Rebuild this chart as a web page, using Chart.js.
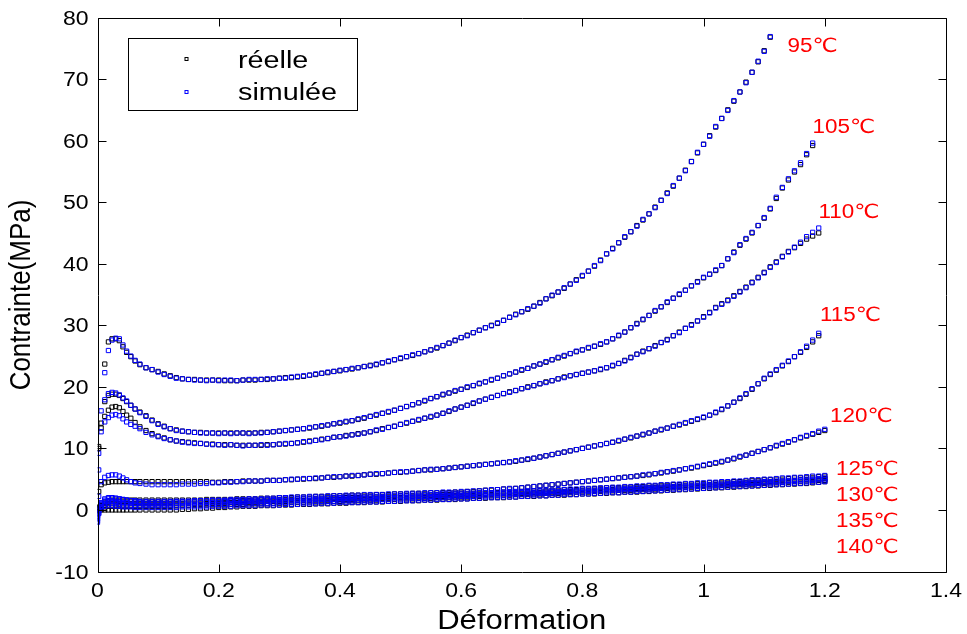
<!DOCTYPE html>
<html>
<head>
<meta charset="utf-8">
<script src="https://cdn.jsdelivr.net/npm/chart.js@4.4.1/dist/chart.umd.min.js"></script>
<style>
  html, body { margin: 0; padding: 0; background: #ffffff; }
  #wrap { width: 967px; height: 634px; }
</style>
</head>
<body>
<div id="wrap"><canvas id="c" width="967" height="634" style="width:967px;height:634px"></canvas></div>
<script>
// ---------- DATA ----------
const strain = [0, 0.002, 0.006, 0.012, 0.018, 0.024, 0.03, 0.036, 0.042, 0.048, 0.055, 0.062, 0.07, 0.08, 0.09,
  0.10, 0.11, 0.12, 0.13, 0.14, 0.15, 0.16, 0.17, 0.18, 0.19,
  0.20, 0.21, 0.22, 0.23, 0.24, 0.25, 0.26, 0.27, 0.28, 0.29,
  0.30, 0.31, 0.32, 0.33, 0.34, 0.35, 0.36, 0.37, 0.38, 0.39,
  0.40, 0.41, 0.42, 0.43, 0.44, 0.45, 0.46, 0.47, 0.48, 0.49,
  0.50, 0.51, 0.52, 0.53, 0.54, 0.55, 0.56, 0.57, 0.58, 0.59,
  0.60, 0.61, 0.62, 0.63, 0.64, 0.65, 0.66, 0.67, 0.68, 0.69,
  0.70, 0.71, 0.72, 0.73, 0.74, 0.75, 0.76, 0.77, 0.78, 0.79,
  0.80, 0.81, 0.82, 0.83, 0.84, 0.85, 0.86, 0.87, 0.88, 0.89,
  0.90, 0.91, 0.92, 0.93, 0.94, 0.95, 0.96, 0.97, 0.98, 0.99,
  1.00, 1.01, 1.02, 1.03, 1.04, 1.05, 1.06, 1.07, 1.08, 1.09,
  1.10, 1.11, 1.12, 1.13, 1.14, 1.15, 1.16, 1.17, 1.18, 1.19,
  1.20];

const temperatures = ['95℃', '105℃', '110℃', '115℃', '120℃', '125℃', '130℃', '135℃', '140℃'];

// réelle (measured) stress, MPa
const reel95 = [0.3, 10.3, null, 23.7, 27.3, 27.8, 27.8, 27.5, 26.5, 25.6, 24.9, 24.2, 23.6, 23.1, 22.8,
  22.5, 22.1, 21.8, 21.5, 21.3, 21.2, 21.2, 21.1, 21.1, 21.1,
  21.1, 21.0, 21.0, 21.0, 21.1, 21.1, 21.1, 21.2, 21.2, 21.3,
  21.4, 21.5, 21.5, 21.6, 21.7, 21.9, 22.0, 22.2, 22.3, 22.5,
  22.6, 22.8, 22.9, 23.1, 23.3, 23.5, 23.6, 23.9, 24.1, 24.4,
  24.6, 24.9, 25.1, 25.4, 25.7, 26.0, 26.3, 26.7, 27.1, 27.5,
  28.0, 28.4, 28.8, 29.2, 29.6, 30.0, 30.3, 30.8, 31.3, 31.8,
  32.2, 32.6, 33.1, 33.7, 34.3, 34.8, 35.4, 36.0, 36.7, 37.4,
  38.0, 38.8, 39.6, 40.6, 41.6, 42.5, 43.4, 44.3, 45.2, 46.2,
  47.1, 48.1, 49.2, 50.3, 51.5, 52.6, 53.9, 55.2, 56.6, 58.0,
  59.4, 60.8, 62.2, 63.6, 65.0, 66.4, 67.9, 69.5, 71.1, 72.8,
  74.6, 76.8];
const reel105 = [0.2, 10.0, 14.1, 17.6, 18.6, 18.8, 18.8, 18.6, 18.1, 17.6, 17.0, 16.4, 15.9, 15.3, 14.6,
  14.0, 13.6, 13.2, 13.0, 12.8, 12.7, 12.6, 12.6, 12.5, 12.5,
  12.5, 12.5, 12.5, 12.5, 12.5, 12.5, 12.5, 12.6, 12.6, 12.7,
  12.8, 12.9, 13.0, 13.1, 13.2, 13.3, 13.5, 13.6, 13.8, 14.0,
  14.1, 14.3, 14.5, 14.7, 14.9, 15.2, 15.4, 15.7, 15.9, 16.2,
  16.5, 16.8, 17.1, 17.4, 17.7, 18.1, 18.4, 18.7, 19.0, 19.3,
  19.6, 19.9, 20.2, 20.5, 20.8, 21.1, 21.4, 21.8, 22.1, 22.4,
  22.7, 23.0, 23.4, 23.7, 24.0, 24.4, 24.7, 25.0, 25.4, 25.7,
  26.0, 26.3, 26.6, 26.9, 27.3, 27.8, 28.3, 28.9, 29.6, 30.3,
  30.9, 31.6, 32.3, 33.0, 33.7, 34.4, 35.0, 35.7, 36.4, 37.1,
  37.7, 38.3, 38.9, 39.7, 40.8, 41.9, 43.0, 44.0, 45.0, 46.2,
  47.4, 48.9, 50.6, 52.3, 53.6, 54.9, 56.1, 57.7, 59.2];
const reel110 = [0.4, null, 13.3, 15.2, 16.2, 16.7, 16.8, 16.6, 16.0, 15.4, 14.9, 14.2, 13.5, 12.9, 12.4,
  12.0, 11.7, 11.4, 11.2, 11.1, 11.0, 10.9, 10.8, 10.7, 10.7,
  10.6, 10.6, 10.6, 10.5, 10.5, 10.5, 10.5, 10.5, 10.6, 10.6,
  10.7, 10.7, 10.8, 10.9, 11.0, 11.2, 11.3, 11.5, 11.6, 11.8,
  11.9, 12.1, 12.2, 12.4, 12.5, 12.7, 12.9, 13.2, 13.4, 13.6,
  13.9, 14.1, 14.4, 14.6, 14.9, 15.1, 15.4, 15.7, 16.0, 16.4,
  16.7, 17.0, 17.3, 17.7, 18.0, 18.3, 18.6, 18.9, 19.2, 19.4,
  19.7, 20.0, 20.2, 20.5, 20.8, 21.0, 21.3, 21.6, 21.8, 22.0,
  22.2, 22.4, 22.6, 22.8, 23.1, 23.4, 23.8, 24.3, 24.8, 25.3,
  25.8, 26.2, 26.7, 27.2, 27.7, 28.3, 28.9, 29.5, 30.1, 30.7,
  31.4, 32.1, 32.9, 33.5, 34.1, 34.8, 35.5, 36.2, 37.0, 37.8,
  38.6, 39.5, 40.3, 41.2, 42.0, 42.6, 43.3, 44.0, 44.5, 45.0];
const reel115 = [0.5, 3.0, 4.1, 4.4, 4.5, 4.6, 4.6, 4.6, 4.6, 4.6, 4.6, 4.6, 4.6, 4.6, 4.6,
  4.6, 4.6, 4.6, 4.6, 4.6, 4.6, 4.6, 4.6, 4.6, 4.5,
  4.5, 4.6, 4.6, 4.6, 4.7, 4.7, 4.7, 4.7, 4.8, 4.8,
  4.8, 4.9, 4.9, 5.0, 5.0, 5.1, 5.1, 5.2, 5.3, 5.3,
  5.4, 5.5, 5.5, 5.6, 5.7, 5.8, 5.8, 5.9, 6.0, 6.1,
  6.1, 6.2, 6.3, 6.4, 6.5, 6.5, 6.6, 6.7, 6.8, 6.9,
  7.0, 7.1, 7.2, 7.3, 7.4, 7.5, 7.6, 7.7, 7.8, 7.9,
  8.1, 8.2, 8.4, 8.6, 8.8, 9.0, 9.2, 9.4, 9.6, 9.8,
  10.0, 10.2, 10.4, 10.6, 10.8, 11.0, 11.2, 11.5, 11.7, 12.0,
  12.2, 12.5, 12.8, 13.0, 13.3, 13.6, 13.8, 14.1, 14.4, 14.7,
  15.0, 15.4, 15.8, 16.3, 16.9, 17.5, 18.1, 18.8, 19.6, 20.5,
  21.3, 22.0, 22.7, 23.4, 24.1, 24.9, 25.6, 26.4, 27.3, 28.3];
const reel120 = [0.0, 0.4, 0.8, 1.3, 1.5, 1.6, 1.6, 1.6, 1.6, 1.6, 1.6, 1.6, 1.6, 1.6, 1.6,
  1.6, 1.6, 1.6, 1.6, 1.6, 1.6, 1.6, 1.6, 1.7, 1.7,
  1.7, 1.7, 1.7, 1.8, 1.8, 1.8, 1.8, 1.9, 1.9, 1.9,
  2.0, 2.0, 2.0, 2.1, 2.1, 2.1, 2.2, 2.2, 2.2, 2.3,
  2.3, 2.3, 2.4, 2.4, 2.4, 2.4, 2.5, 2.5, 2.5, 2.6,
  2.6, 2.6, 2.7, 2.7, 2.7, 2.8, 2.8, 2.8, 2.8, 2.9,
  2.9, 3.0, 3.0, 3.1, 3.2, 3.2, 3.3, 3.4, 3.4, 3.5,
  3.6, 3.7, 3.8, 3.9, 4.0, 4.1, 4.2, 4.3, 4.4, 4.5,
  4.6, 4.7, 4.8, 4.9, 5.0, 5.1, 5.2, 5.3, 5.4, 5.5,
  5.6, 5.7, 5.9, 6.0, 6.2, 6.3, 6.5, 6.7, 6.8, 7.0,
  7.2, 7.4, 7.6, 7.8, 8.1, 8.3, 8.6, 8.9, 9.2, 9.5,
  9.8, 10.1, 10.4, 10.7, 11.0, 11.4, 11.7, 12.0, 12.3, 12.6,
  12.9];
const reel125 = [-0.3, 0.3, 0.7, 1.1, 1.3, 1.4, 1.4, 1.4, 1.4, 1.4, 1.4, 1.3, 1.3, 1.3, 1.3,
  1.3, 1.3, 1.3, 1.3, 1.3, 1.3, 1.4, 1.4, 1.4, 1.4,
  1.4, 1.4, 1.5, 1.5, 1.5, 1.5, 1.6, 1.6, 1.6, 1.6,
  1.7, 1.7, 1.7, 1.8, 1.8, 1.8, 1.8, 1.9, 1.9, 1.9,
  2.0, 2.0, 2.0, 2.0, 2.1, 2.1, 2.1, 2.2, 2.2, 2.2,
  2.3, 2.3, 2.3, 2.4, 2.4, 2.4, 2.5, 2.5, 2.5, 2.6,
  2.6, 2.6, 2.7, 2.7, 2.7, 2.8, 2.8, 2.9, 2.9, 2.9,
  3.0, 3.0, 3.1, 3.1, 3.1, 3.2, 3.2, 3.3, 3.3, 3.3,
  3.4, 3.4, 3.5, 3.5, 3.6, 3.6, 3.6, 3.7, 3.7, 3.8,
  3.8, 3.9, 3.9, 4.0, 4.0, 4.1, 4.1, 4.2, 4.2, 4.3,
  4.3, 4.4, 4.4, 4.5, 4.5, 4.6, 4.6, 4.7, 4.8, 4.8,
  4.9, 4.9, 5.0, 5.0, 5.1, 5.2, 5.2, 5.3, 5.3, 5.4,
  5.5];
const reel130 = [0.0, 0.2, 0.5, 0.8, 1.0, 1.0, 1.0, 1.0, 1.0, 1.0, 1.0, 1.0, 1.0, 1.0, 1.0,
  1.0, 1.0, 1.0, 1.0, 1.0, 1.1, 1.1, 1.1, 1.1, 1.1,
  1.2, 1.2, 1.2, 1.2, 1.3, 1.3, 1.3, 1.3, 1.4, 1.4,
  1.4, 1.4, 1.5, 1.5, 1.5, 1.5, 1.6, 1.6, 1.6, 1.7,
  1.7, 1.7, 1.7, 1.8, 1.8, 1.8, 1.9, 1.9, 1.9, 2.0,
  2.0, 2.0, 2.1, 2.1, 2.1, 2.2, 2.2, 2.2, 2.3, 2.3,
  2.3, 2.4, 2.4, 2.4, 2.5, 2.5, 2.6, 2.6, 2.6, 2.7,
  2.7, 2.7, 2.8, 2.8, 2.9, 2.9, 2.9, 3.0, 3.0, 3.1,
  3.1, 3.1, 3.2, 3.2, 3.3, 3.3, 3.4, 3.4, 3.4, 3.5,
  3.5, 3.6, 3.6, 3.7, 3.7, 3.8, 3.8, 3.9, 3.9, 4.0,
  4.0, 4.1, 4.1, 4.2, 4.2, 4.3, 4.3, 4.4, 4.4, 4.5,
  4.5, 4.6, 4.6, 4.7, 4.7, 4.8, 4.9, 4.9, 5.0, 5.0,
  5.1];
const reel135 = [0.2, 0.1, 0.3, 0.5, 0.6, 0.6, 0.6, 0.6, 0.6, 0.6, 0.6, 0.6, 0.6, 0.6, 0.6,
  0.6, 0.6, 0.6, 0.7, 0.7, 0.7, 0.7, 0.7, 0.8, 0.8,
  0.8, 0.8, 0.9, 0.9, 0.9, 1.0, 1.0, 1.0, 1.0, 1.1,
  1.1, 1.1, 1.2, 1.2, 1.2, 1.3, 1.3, 1.3, 1.4, 1.4,
  1.4, 1.5, 1.5, 1.5, 1.6, 1.6, 1.6, 1.7, 1.7, 1.7,
  1.8, 1.8, 1.8, 1.9, 1.9, 1.9, 2.0, 2.0, 2.0, 2.1,
  2.1, 2.1, 2.2, 2.2, 2.3, 2.3, 2.3, 2.4, 2.4, 2.5,
  2.5, 2.5, 2.6, 2.6, 2.7, 2.7, 2.7, 2.8, 2.8, 2.9,
  2.9, 2.9, 3.0, 3.0, 3.1, 3.1, 3.2, 3.2, 3.2, 3.3,
  3.3, 3.4, 3.4, 3.5, 3.5, 3.6, 3.6, 3.7, 3.7, 3.8,
  3.8, 3.9, 3.9, 4.0, 4.0, 4.1, 4.1, 4.2, 4.2, 4.3,
  4.3, 4.4, 4.4, 4.5, 4.5, 4.6, 4.6, 4.7, 4.7, 4.8,
  4.8];
const reel140 = [0.0, -0.1, 0.0, 0.0, 0.0, 0.0, 0.0, 0.0, 0.0, 0.0, 0.0, 0.0, 0.0, 0.0, 0.0,
  0.0, 0.0, 0.0, 0.0, 0.1, 0.1, 0.2, 0.2, 0.3, 0.3,
  0.4, 0.4, 0.5, 0.5, 0.6, 0.6, 0.6, 0.7, 0.7, 0.7,
  0.8, 0.8, 0.8, 0.9, 0.9, 0.9, 1.0, 1.0, 1.0, 1.1,
  1.1, 1.1, 1.2, 1.2, 1.2, 1.3, 1.3, 1.3, 1.4, 1.4,
  1.4, 1.5, 1.5, 1.5, 1.6, 1.6, 1.6, 1.7, 1.7, 1.7,
  1.8, 1.8, 1.9, 1.9, 1.9, 2.0, 2.0, 2.0, 2.1, 2.1,
  2.2, 2.2, 2.2, 2.3, 2.3, 2.4, 2.4, 2.4, 2.5, 2.5,
  2.6, 2.6, 2.6, 2.7, 2.7, 2.8, 2.8, 2.9, 2.9, 2.9,
  3.0, 3.0, 3.1, 3.1, 3.2, 3.2, 3.3, 3.3, 3.4, 3.4,
  3.5, 3.5, 3.6, 3.6, 3.7, 3.7, 3.8, 3.8, 3.9, 3.9,
  4.0, 4.0, 4.1, 4.1, 4.2, 4.2, 4.3, 4.3, 4.4, 4.5,
  4.6];

// simulée (model) stress, MPa
const simu95 = [-1.5, 9.2, null, 22.3, 25.9, 27.6, 27.9, 27.8, 26.8, 25.8, 25.0, 24.3, 23.7, 23.1, 22.8,
  22.4, 22.0, 21.7, 21.4, 21.3, 21.2, 21.1, 21.1, 21.0, 21.1,
  21.0, 21.1, 21.1, 21.0, 21.1, 21.2, 21.2, 21.2, 21.3, 21.3,
  21.4, 21.4, 21.6, 21.7, 21.8, 21.9, 22.1, 22.2, 22.4, 22.5,
  22.7, 22.8, 23.0, 23.1, 23.3, 23.4, 23.7, 23.9, 24.2, 24.4,
  24.7, 24.9, 25.2, 25.4, 25.7, 26.0, 26.4, 26.7, 27.1, 27.6,
  28.0, 28.3, 28.8, 29.2, 29.6, 29.9, 30.4, 30.8, 31.3, 31.7,
  32.2, 32.7, 33.1, 33.6, 34.3, 34.9, 35.4, 36.1, 36.7, 37.3,
  38.1, 38.8, 39.7, 40.5, 41.6, 42.4, 43.4, 44.4, 45.2, 46.1,
  47.2, 48.1, 49.1, 50.3, 51.4, 52.7, 53.9, 55.1, 56.6, 58.1,
  59.4, 60.7, 62.3, 63.6, 64.9, 66.5, 67.9, 69.4, 71.1, 72.9,
  74.5, 76.9];
const simu105 = [-0.5, 6.5, 16.1, 17.9, 18.9, 19.1, 19.0, 18.7, 18.2, 17.7, 17.0, 16.4, 15.8, 15.2, 14.5,
  13.9, 13.5, 13.2, 12.9, 12.8, 12.7, 12.6, 12.5, 12.5, 12.5,
  12.4, 12.5, 12.4, 12.5, 12.5, 12.4, 12.5, 12.5, 12.6, 12.7,
  12.8, 12.9, 13.0, 13.1, 13.2, 13.4, 13.5, 13.7, 13.8, 14.0,
  14.2, 14.4, 14.5, 14.8, 15.0, 15.2, 15.5, 15.7, 16.0, 16.2,
  16.5, 16.8, 17.1, 17.4, 17.8, 18.1, 18.4, 18.8, 19.0, 19.4,
  19.6, 20.0, 20.2, 20.6, 20.8, 21.2, 21.4, 21.8, 22.1, 22.4,
  22.8, 23.0, 23.4, 23.7, 24.1, 24.4, 24.8, 25.1, 25.4, 25.8,
  26.0, 26.4, 26.6, 27.0, 27.3, 27.8, 28.4, 28.9, 29.6, 30.2,
  31.0, 31.6, 32.4, 33.0, 33.8, 34.4, 35.1, 35.7, 36.4, 37.0,
  37.8, 38.3, 39.0, 39.7, 40.8, 41.8, 43.1, 44.1, 45.1, 46.2,
  47.5, 49.0, 50.8, 52.4, 53.8, 55.1, 56.4, 57.9, 59.6];
const simu110 = [-1.0, null, 12.7, 14.3, 15.0, 15.4, 15.5, 15.3, 14.8, 14.3, 13.9, 13.6, 13.2, 12.6, 12.2,
  11.9, 11.6, 11.4, 11.2, 11.0, 10.9, 10.8, 10.8, 10.7, 10.6,
  10.6, 10.5, 10.6, 10.5, 10.4, 10.5, 10.5, 10.6, 10.5, 10.6,
  10.7, 10.8, 10.8, 10.9, 11.1, 11.1, 11.3, 11.4, 11.6, 11.8,
  11.9, 12.0, 12.2, 12.3, 12.5, 12.7, 13.0, 13.1, 13.4, 13.6,
  13.9, 14.2, 14.4, 14.7, 14.9, 15.2, 15.4, 15.7, 16.1, 16.4,
  16.7, 17.0, 17.4, 17.7, 18.0, 18.3, 18.6, 18.9, 19.1, 19.4,
  19.7, 19.9, 20.2, 20.5, 20.7, 21.0, 21.3, 21.5, 21.8, 22.0,
  22.2, 22.4, 22.6, 22.9, 23.1, 23.5, 23.8, 24.2, 24.7, 25.3,
  25.7, 26.2, 26.6, 27.2, 27.6, 28.3, 28.8, 29.5, 30.0, 30.7,
  31.3, 32.0, 32.8, 33.4, 34.0, 34.7, 35.4, 36.1, 36.9, 37.7,
  38.5, 39.4, 40.2, 41.1, 41.9, 42.7, 43.5, 44.4, 45.1, 45.8];
const simu115 = [-0.8, 2.2, 4.6, 5.3, 5.6, 5.7, 5.7, 5.5, 5.2, 4.9, 4.6, 4.4, 4.3, 4.2, 4.1,
  4.1, 4.1, 4.1, 4.1, 4.2, 4.2, 4.2, 4.3, 4.3, 4.4,
  4.4, 4.5, 4.5, 4.6, 4.6, 4.7, 4.7, 4.7, 4.8, 4.8,
  4.8, 4.9, 5.0, 5.0, 5.1, 5.1, 5.2, 5.2, 5.3, 5.4,
  5.4, 5.5, 5.6, 5.6, 5.7, 5.8, 5.9, 5.9, 6.0, 6.1,
  6.2, 6.2, 6.3, 6.4, 6.5, 6.6, 6.6, 6.7, 6.8, 6.9,
  7.0, 7.1, 7.2, 7.3, 7.4, 7.5, 7.6, 7.7, 7.8, 8.0,
  8.1, 8.3, 8.4, 8.6, 8.8, 9.0, 9.2, 9.4, 9.6, 9.8,
  10.0, 10.2, 10.4, 10.6, 10.8, 11.0, 11.3, 11.5, 11.8, 12.0,
  12.3, 12.5, 12.8, 13.1, 13.3, 13.6, 13.9, 14.2, 14.5, 14.8,
  15.1, 15.4, 15.9, 16.4, 16.9, 17.5, 18.2, 18.9, 19.7, 20.5,
  21.4, 22.1, 22.8, 23.5, 24.2, 24.9, 25.7, 26.6, 27.6, 28.7];
const simu120 = [-1.2, 0.2, 1.0, 1.6, 1.8, 1.9, 1.9, 1.8, 1.7, 1.6, 1.5, 1.4, 1.3, 1.3, 1.3,
  1.3, 1.3, 1.3, 1.4, 1.4, 1.4, 1.5, 1.5, 1.5, 1.6,
  1.6, 1.6, 1.7, 1.7, 1.7, 1.8, 1.8, 1.8, 1.9, 1.9,
  2.0, 2.0, 2.1, 2.1, 2.1, 2.2, 2.2, 2.2, 2.3, 2.3,
  2.3, 2.4, 2.4, 2.4, 2.5, 2.5, 2.5, 2.5, 2.6, 2.6,
  2.6, 2.7, 2.7, 2.7, 2.8, 2.8, 2.8, 2.9, 2.9, 2.9,
  3.0, 3.0, 3.1, 3.1, 3.2, 3.3, 3.3, 3.4, 3.5, 3.5,
  3.6, 3.7, 3.8, 3.9, 4.0, 4.1, 4.2, 4.3, 4.4, 4.5,
  4.6, 4.7, 4.8, 4.9, 5.0, 5.1, 5.2, 5.3, 5.4, 5.5,
  5.7, 5.8, 5.9, 6.1, 6.2, 6.4, 6.5, 6.7, 6.9, 7.1,
  7.3, 7.5, 7.7, 7.9, 8.1, 8.4, 8.7, 8.9, 9.2, 9.5,
  9.8, 10.1, 10.5, 10.8, 11.1, 11.4, 11.8, 12.1, 12.4, 12.8,
  13.1];
const simu125 = [-1.8, -0.5, 1.2, 1.8, 2.0, 2.0, 1.9, 1.8, 1.7, 1.6, 1.5, 1.5, 1.4, 1.4, 1.4,
  1.4, 1.4, 1.4, 1.4, 1.4, 1.4, 1.4, 1.5, 1.5, 1.5,
  1.5, 1.5, 1.5, 1.6, 1.6, 1.6, 1.6, 1.7, 1.7, 1.7,
  1.7, 1.8, 1.8, 1.8, 1.9, 1.9, 1.9, 1.9, 2.0, 2.0,
  2.0, 2.1, 2.1, 2.1, 2.1, 2.2, 2.2, 2.2, 2.3, 2.3,
  2.3, 2.4, 2.4, 2.4, 2.5, 2.5, 2.5, 2.6, 2.6, 2.6,
  2.7, 2.7, 2.7, 2.8, 2.8, 2.8, 2.9, 2.9, 3.0, 3.0,
  3.0, 3.1, 3.1, 3.2, 3.2, 3.2, 3.3, 3.3, 3.4, 3.4,
  3.5, 3.5, 3.5, 3.6, 3.6, 3.7, 3.7, 3.8, 3.8, 3.9,
  3.9, 4.0, 4.0, 4.1, 4.1, 4.2, 4.2, 4.3, 4.3, 4.4,
  4.4, 4.5, 4.5, 4.6, 4.6, 4.7, 4.7, 4.8, 4.9, 4.9,
  5.0, 5.0, 5.1, 5.2, 5.2, 5.3, 5.3, 5.4, 5.5, 5.5,
  5.6];
const simu130 = [-1.4, -0.2, 0.9, 1.4, 1.5, 1.5, 1.4, 1.3, 1.2, 1.2, 1.1, 1.1, 1.1, 1.0, 1.0,
  1.0, 1.0, 1.0, 1.1, 1.1, 1.1, 1.1, 1.2, 1.2, 1.2,
  1.2, 1.3, 1.3, 1.3, 1.3, 1.4, 1.4, 1.4, 1.4, 1.5,
  1.5, 1.5, 1.5, 1.6, 1.6, 1.6, 1.7, 1.7, 1.7, 1.7,
  1.8, 1.8, 1.8, 1.9, 1.9, 1.9, 1.9, 2.0, 2.0, 2.0,
  2.1, 2.1, 2.1, 2.2, 2.2, 2.2, 2.3, 2.3, 2.3, 2.4,
  2.4, 2.4, 2.5, 2.5, 2.5, 2.6, 2.6, 2.7, 2.7, 2.7,
  2.8, 2.8, 2.8, 2.9, 2.9, 3.0, 3.0, 3.0, 3.1, 3.1,
  3.2, 3.2, 3.2, 3.3, 3.3, 3.4, 3.4, 3.5, 3.5, 3.6,
  3.6, 3.6, 3.7, 3.7, 3.8, 3.8, 3.9, 3.9, 4.0, 4.0,
  4.1, 4.1, 4.2, 4.2, 4.3, 4.3, 4.4, 4.4, 4.5, 4.5,
  4.6, 4.6, 4.7, 4.7, 4.8, 4.8, 4.9, 5.0, 5.0, 5.1,
  5.2];
const simu135 = [-1.0, 0.0, 0.6, 1.0, 1.1, 1.1, 1.0, 0.9, 0.8, 0.8, 0.7, 0.7, 0.7, 0.7, 0.7,
  0.7, 0.7, 0.7, 0.7, 0.7, 0.8, 0.8, 0.8, 0.8, 0.9,
  0.9, 0.9, 0.9, 1.0, 1.0, 1.0, 1.1, 1.1, 1.1, 1.1,
  1.2, 1.2, 1.2, 1.3, 1.3, 1.3, 1.4, 1.4, 1.4, 1.4,
  1.5, 1.5, 1.5, 1.6, 1.6, 1.6, 1.7, 1.7, 1.7, 1.8,
  1.8, 1.8, 1.9, 1.9, 1.9, 2.0, 2.0, 2.0, 2.1, 2.1,
  2.2, 2.2, 2.2, 2.3, 2.3, 2.3, 2.4, 2.4, 2.5, 2.5,
  2.5, 2.6, 2.6, 2.7, 2.7, 2.7, 2.8, 2.8, 2.9, 2.9,
  2.9, 3.0, 3.0, 3.1, 3.1, 3.2, 3.2, 3.3, 3.3, 3.3,
  3.4, 3.4, 3.5, 3.5, 3.6, 3.6, 3.7, 3.7, 3.8, 3.8,
  3.9, 3.9, 4.0, 4.0, 4.1, 4.1, 4.2, 4.2, 4.3, 4.3,
  4.4, 4.4, 4.5, 4.5, 4.6, 4.6, 4.7, 4.7, 4.8, 4.9,
  4.9];
const simu140 = [-2.0, -0.6, 0.3, 0.6, 0.7, 0.7, 0.6, 0.6, 0.5, 0.5, 0.5, 0.4, 0.4, 0.4, 0.4,
  0.4, 0.4, 0.4, 0.4, 0.5, 0.5, 0.5, 0.5, 0.5, 0.6,
  0.6, 0.6, 0.6, 0.7, 0.7, 0.7, 0.7, 0.8, 0.8, 0.8,
  0.8, 0.9, 0.9, 0.9, 1.0, 1.0, 1.0, 1.1, 1.1, 1.1,
  1.2, 1.2, 1.2, 1.2, 1.3, 1.3, 1.3, 1.4, 1.4, 1.4,
  1.5, 1.5, 1.5, 1.6, 1.6, 1.6, 1.7, 1.7, 1.7, 1.8,
  1.8, 1.8, 1.9, 1.9, 2.0, 2.0, 2.0, 2.1, 2.1, 2.1,
  2.2, 2.2, 2.3, 2.3, 2.3, 2.4, 2.4, 2.5, 2.5, 2.5,
  2.6, 2.6, 2.7, 2.7, 2.8, 2.8, 2.8, 2.9, 2.9, 3.0,
  3.0, 3.1, 3.1, 3.2, 3.2, 3.3, 3.3, 3.4, 3.4, 3.5,
  3.5, 3.6, 3.6, 3.7, 3.7, 3.8, 3.8, 3.9, 3.9, 4.0,
  4.0, 4.1, 4.1, 4.2, 4.2, 4.3, 4.3, 4.4, 4.5, 4.5,
  4.6];

const xTickValues = [0, 0.2, 0.4, 0.6, 0.8, 1, 1.2, 1.4];
const xTickLabels = ['0', '0.2', '0.4', '0.6', '0.8', '1', '1.2', '1.4'];
const yTickValues = [-10, 0, 10, 20, 30, 40, 50, 60, 70, 80];
const yTickLabels = ['-10', '0', '10', '20', '30', '40', '50', '60', '70', '80'];

const reelSeries = [reel95, reel105, reel110, reel115, reel120, reel125, reel130, reel135, reel140];
const simuSeries = [simu95, simu105, simu110, simu115, simu120, simu125, simu130, simu135, simu140];

// ---------- BUILD ----------
function toPoints(ys) {
  const pts = [];
  ys.forEach((y, i) => { if (y !== null && y !== undefined) pts.push({ x: strain[i], y: y }); });
  return pts;
}

const datasets = [];
reelSeries.forEach((ys, k) => {
  datasets.push({ label: 'réelle ' + temperatures[k], data: toPoints(ys), borderColor: '#000000', order: 2 });
});
simuSeries.forEach((ys, k) => {
  datasets.push({ label: 'simulée ' + temperatures[k], data: toPoints(ys), borderColor: '#0000ff', order: 1 });
});

const FONT = '"Liberation Sans", Arial, Helvetica, "DejaVu Sans", sans-serif';
const STRETCH = 1.15;

function sText(ctx, txt, x, y, size, align, color, sx) {
  ctx.save();
  ctx.translate(x, y);
  ctx.scale(sx || STRETCH, 1);
  ctx.font = size + 'px ' + FONT;
  ctx.fillStyle = color;
  ctx.textAlign = align;
  ctx.textBaseline = 'alphabetic';
  ctx.fillText(txt, 0, 0);
  ctx.restore();
}

const tempLabelPos = [
  [787.5, 51.5], [812.5, 132.5], [818.5, 218], [820, 321], [830, 422],
  [836, 475], [836, 500.5], [836, 526.5], [836, 552.5]
];

const decor = {
  id: 'decor',
  afterDatasetsDraw(chart) {
    const ctx = chart.ctx;
    const a = chart.chartArea;
    const xs = chart.scales.x, ys = chart.scales.y;
    const L = Math.round(a.left) + 0.5, R = Math.round(a.right) + 0.5;
    const T = Math.round(a.top) + 0.5, B = Math.round(a.bottom) + 0.5;
    ctx.save();
    ctx.strokeStyle = '#000000';
    ctx.lineWidth = 1;
    ctx.beginPath();
    ctx.rect(L, T, R - L, B - T);
    const tl = 8;
    xTickValues.forEach(v => {
      const px = Math.round(xs.getPixelForValue(v)) + 0.5;
      ctx.moveTo(px, B); ctx.lineTo(px, B - tl);
      ctx.moveTo(px, T); ctx.lineTo(px, T + tl);
    });
    yTickValues.forEach(v => {
      const py = Math.round(ys.getPixelForValue(v)) + 0.5;
      ctx.moveTo(L, py); ctx.lineTo(L + tl, py);
      ctx.moveTo(R, py); ctx.lineTo(R - tl, py);
    });
    ctx.stroke();
    ctx.restore();

    // tick labels
    xTickValues.forEach((v, i) => {
      sText(ctx, xTickLabels[i], xs.getPixelForValue(v), 597, 20, 'center', '#000000');
    });
    yTickValues.forEach((v, i) => {
      sText(ctx, yTickLabels[i], 88.5, ys.getPixelForValue(v) + 7, 20, 'right', '#000000');
    });

    // axis titles
    sText(ctx, 'Déformation', (a.left + a.right) / 2, 629, 27, 'center', '#000000');
    ctx.save();
    ctx.translate(22, 295);
    ctx.scale(STRETCH, 1);
    ctx.rotate(-Math.PI / 2);
    ctx.font = '26px ' + FONT;
    ctx.fillStyle = '#000000';
    ctx.textAlign = 'center';
    ctx.textBaseline = 'middle';
    ctx.fillText('Contrainte(MPa)', 0, 0);
    ctx.restore();

    // temperature labels
    temperatures.forEach((t, i) => {
      sText(ctx, t, tempLabelPos[i][0], tempLabelPos[i][1], 19.5, 'left', '#ff0000');
    });

    // legend
    ctx.save();
    ctx.fillStyle = '#ffffff';
    ctx.fillRect(128.5, 38.5, 229, 72);
    ctx.strokeStyle = '#000000';
    ctx.lineWidth = 1;
    ctx.strokeRect(128.5, 38.5, 229, 72);
    ctx.strokeStyle = '#000000';
    ctx.strokeRect(185, 57.5, 3, 3);
    ctx.strokeStyle = '#0000ff';
    ctx.strokeRect(185, 90.5, 3, 3);
    ctx.restore();
    sText(ctx, 'réelle', 238, 68, 23, 'left', '#000000', 1.25);
    sText(ctx, 'simulée', 238, 100, 23, 'left', '#000000', 1.25);
  }
};

new Chart(document.getElementById('c'), {
  type: 'scatter',
  data: { datasets: datasets },
  options: {
    responsive: false,
    animation: false,
    devicePixelRatio: 1,
    layout: { padding: { left: 97.5, right: 21, top: 17.5, bottom: 62.5 } },
    plugins: { legend: { display: false }, tooltip: { enabled: false } },
    elements: {
      point: { pointStyle: 'rect', radius: 3, hoverRadius: 3, borderWidth: 1, backgroundColor: 'rgba(0,0,0,0)' }
    },
    scales: {
      x: { type: 'linear', min: 0, max: 1.4, ticks: { display: false, stepSize: 0.2 }, grid: { display: false, drawTicks: false, tickLength: 0 }, border: { display: false } },
      y: { type: 'linear', min: -10, max: 80, ticks: { display: false, stepSize: 10 }, grid: { display: false, drawTicks: false, tickLength: 0 }, border: { display: false } }
    }
  },
  plugins: [decor]
});
</script>
</body>
</html>
